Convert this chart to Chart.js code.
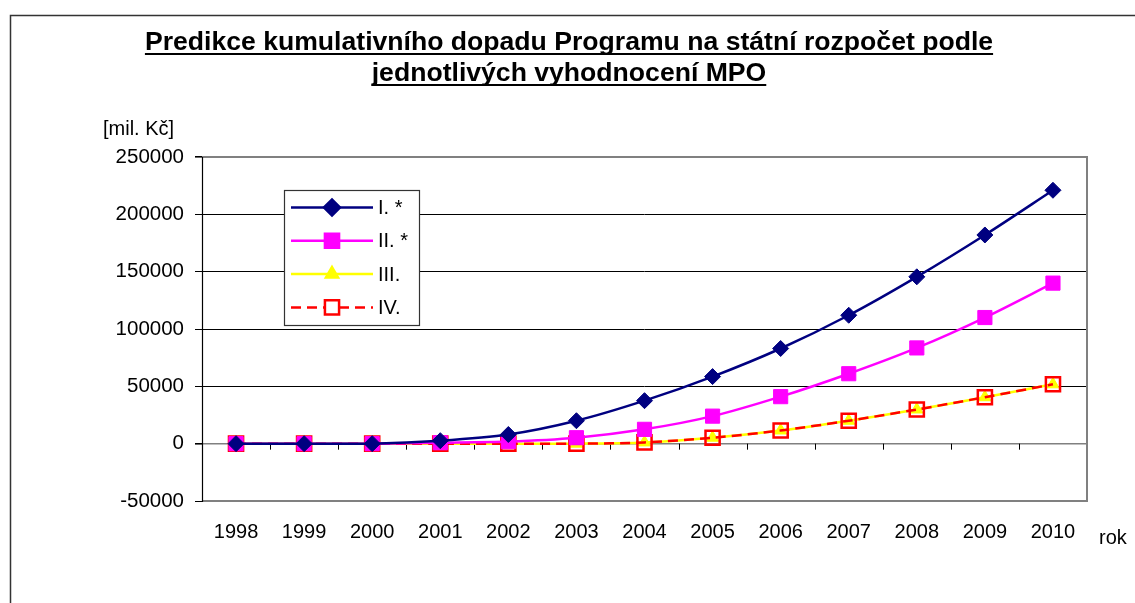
<!DOCTYPE html>
<html>
<head>
<meta charset="utf-8">
<script src="https://cdn.jsdelivr.net/npm/chart.js@4.4.1/dist/chart.umd.min.js"></script>
<style>
  html, body { margin: 0; padding: 0; background: #fff; }
  #wrap { width: 1135px; height: 603px; position: relative; }
</style>
</head>
<body>
<div id="wrap"><canvas id="dopadChart"></canvas></div>
<script>
// data (mil. Kč, cumulative)
const years = ['1998', '1999', '2000', '2001', '2002', '2003', '2004', '2005', '2006', '2007', '2008', '2009', '2010'];
const valuesI   = [0, 0, 0, 2600, 8000, 20000, 37500, 58500, 83000, 112000, 145500, 182000, 221000];
const valuesII  = [0, 0, 0, 800, 1800, 5200, 12500, 24000, 41000, 61000, 83500, 110000, 140000];
const valuesIII = [0, 0, 0, 0, 0, 0, 1100, 5200, 11500, 20000, 29800, 40500, 51800];
const valuesIV  = [0, 0, 0, 0, 0, 0, 1100, 5200, 11500, 20000, 29800, 40500, 51800];
const seriesNames = ['I. *', 'II. *', 'III.', 'IV.'];
const yMin = -50000, yMax = 250000, yStep = 50000;

const titleLines = ['Predikce kumulativního dopadu Programu na státní rozpočet podle', 'jednotlivých vyhodnocení MPO'];
const yUnit = '[mil. Kč]';
const xUnit = 'rok';

const FONT = '"Liberation Sans", Arial, sans-serif';

const decorPlugin = {
    id: 'decor',
    beforeDatasetsDraw(chart) {
        const ctx = chart.ctx;
        const a = chart.chartArea;
        const xs = chart.scales.x;
        const ys = chart.scales.y;
        ctx.save();
        // plot area frame (gray)
        ctx.strokeStyle = '#808080';
        ctx.lineWidth = 2;
        ctx.beginPath();
        ctx.moveTo(a.left, a.top);
        ctx.lineTo(a.right, a.top);
        ctx.lineTo(a.right, a.bottom);
        ctx.lineTo(a.left, a.bottom);
        ctx.stroke();
        ctx.lineWidth = 1.2;
        ctx.strokeStyle = '#000';
        ctx.beginPath();
        ctx.moveTo(a.left + 0.5, a.top);
        ctx.lineTo(a.left + 0.5, a.bottom + 1);
        ctx.stroke();
        // category tick marks on the zero line
        const y0 = ys.getPixelForValue(0);
        const step = xs.getPixelForValue(1) - xs.getPixelForValue(0);
        ctx.lineWidth = 1;
        ctx.strokeStyle = '#000';
        ctx.beginPath();
        for (let i = 1; i < years.length; i++) {
            const x = Math.round(xs.getPixelForValue(i) - step / 2) + 0.5;
            ctx.moveTo(x, y0);
            ctx.lineTo(x, y0 + 6);
        }
        ctx.stroke();
        ctx.restore();
    },
    afterDraw(chart) {
        const ctx = chart.ctx;
        ctx.save();
        // outer frame
        ctx.strokeStyle = '#333';
        ctx.lineWidth = 1.5;
        ctx.strokeRect(10.5, 15.5, 1200, 700);

        // title with underline
        ctx.fillStyle = '#000';
        ctx.font = 'bold 26.6px ' + FONT;
        ctx.textAlign = 'center';
        ctx.textBaseline = 'alphabetic';
        const cx = 569;
        const baselines = [50, 81];
        titleLines.forEach((t, i) => {
            ctx.fillText(t, cx, baselines[i]);
            const w = ctx.measureText(t).width;
            ctx.fillRect(cx - w / 2, baselines[i] + 3, w, 2);
        });

        // axis units
        ctx.font = '20px ' + FONT;
        ctx.textAlign = 'left';
        ctx.textBaseline = 'middle';
        ctx.fillText(yUnit, 103, 129);
        ctx.fillText(xUnit, 1099, 538);

        // legend box
        const lx = 284, ly = 190, lw = 135, lh = 135;
        ctx.fillStyle = '#fff';
        ctx.fillRect(lx, ly, lw, lh);
        ctx.strokeStyle = '#333';
        ctx.lineWidth = 1.2;
        ctx.strokeRect(lx + 0.5, ly + 0.5, lw, lh);
        chart.data.datasets.forEach((ds, i) => {
            const y = 207.5 + i * 33.3;
            ctx.save();
            ctx.strokeStyle = ds.borderColor;
            ctx.lineWidth = ds.borderWidth;
            ctx.setLineDash(ds.borderDash || []);
            ctx.beginPath();
            ctx.moveTo(291, y);
            ctx.lineTo(373, y);
            ctx.stroke();
            ctx.setLineDash([]);
            ctx.fillStyle = ds.legendFill || ds.pointBackgroundColor;
            ctx.strokeStyle = ds.pointBorderColor;
            Chart.helpers.drawPoint(ctx, {
                pointStyle: ds.pointStyle,
                radius: ds.pointRadius,
                borderWidth: ds.pointBorderWidth,
                rotation: 0
            }, 332, y);
            ctx.restore();
            ctx.fillStyle = '#000';
            ctx.font = '20px ' + FONT;
            ctx.textAlign = 'left';
            ctx.textBaseline = 'middle';
            ctx.fillText(ds.label, 378, y + 1);
        });
        ctx.restore();
    }
};

const ctx = document.getElementById('dopadChart').getContext('2d');
new Chart(ctx, {
    type: 'line',
    data: {
        labels: years,
        datasets: [
            {
                label: seriesNames[0],
                data: valuesI,
                borderColor: '#000080',
                borderWidth: 2.5,
                pointStyle: 'rectRot',
                pointRadius: 8,
                pointBackgroundColor: '#000080',
                pointBorderColor: '#000080',
                pointBorderWidth: 1,
                tension: 0.3,
                order: 1
            },
            {
                label: seriesNames[1],
                data: valuesII,
                borderColor: '#ff00ff',
                borderWidth: 2.5,
                pointStyle: 'rect',
                pointRadius: 10,
                pointBackgroundColor: '#ff00ff',
                pointBorderColor: '#ff00ff',
                pointBorderWidth: 1,
                tension: 0.3,
                order: 2
            },
            {
                label: seriesNames[2],
                data: valuesIII,
                borderColor: '#ffff00',
                borderWidth: 2.5,
                pointStyle: 'triangle',
                pointRadius: 7,
                pointBackgroundColor: '#ffff00',
                pointBorderColor: '#ffff00',
                pointBorderWidth: 1,
                tension: 0.3,
                order: 4
            },
            {
                label: seriesNames[3],
                data: valuesIV,
                borderColor: '#ff0000',
                borderWidth: 2.5,
                borderDash: [10, 6],
                pointStyle: 'rect',
                pointRadius: 10,
                pointBackgroundColor: 'rgba(255,255,255,0)',
                legendFill: '#fff',
                pointBorderColor: '#ff0000',
                pointBorderWidth: 2.5,
                tension: 0.3,
                order: 3
            }
        ]
    },
    options: {
        responsive: true,
        maintainAspectRatio: false,
        animation: false,
        layout: { padding: { top: 157, left: 10, right: 48, bottom: 10 } },
        scales: {
            x: {
                type: 'category',
                offset: true,
                grid: { display: false, drawTicks: false },
                border: { display: false },
                ticks: {
                    color: '#000',
                    padding: 19,
                    maxRotation: 0,
                    autoSkip: false,
                    font: { family: FONT, size: 20 }
                },
                afterFit(scale) { scale.height = 92; }
            },
            y: {
                min: yMin,
                max: yMax,
                grid: {
                    color: (c) => c.tick && c.tick.value === 0 ? '#808080' : (c.tick && c.tick.value === yMax ? '#808080' : '#000'),
                    lineWidth: (c) => c.tick && (c.tick.value === 0 || c.tick.value === yMax) ? 1.6 : 1,
                    tickColor: '#000',
                    tickLength: 7
                },
                border: { display: false },
                ticks: {
                    stepSize: yStep,
                    color: '#000',
                    padding: 11,
                    font: { family: FONT, size: 20.5 },
                    callback: (v) => String(v)
                },
                afterFit(scale) { scale.width = 192; }
            }
        },
        plugins: {
            legend: { display: false },
            title: { display: false },
            tooltip: { enabled: false }
        }
    },
    plugins: [decorPlugin]
});
</script>
</body>
</html>
